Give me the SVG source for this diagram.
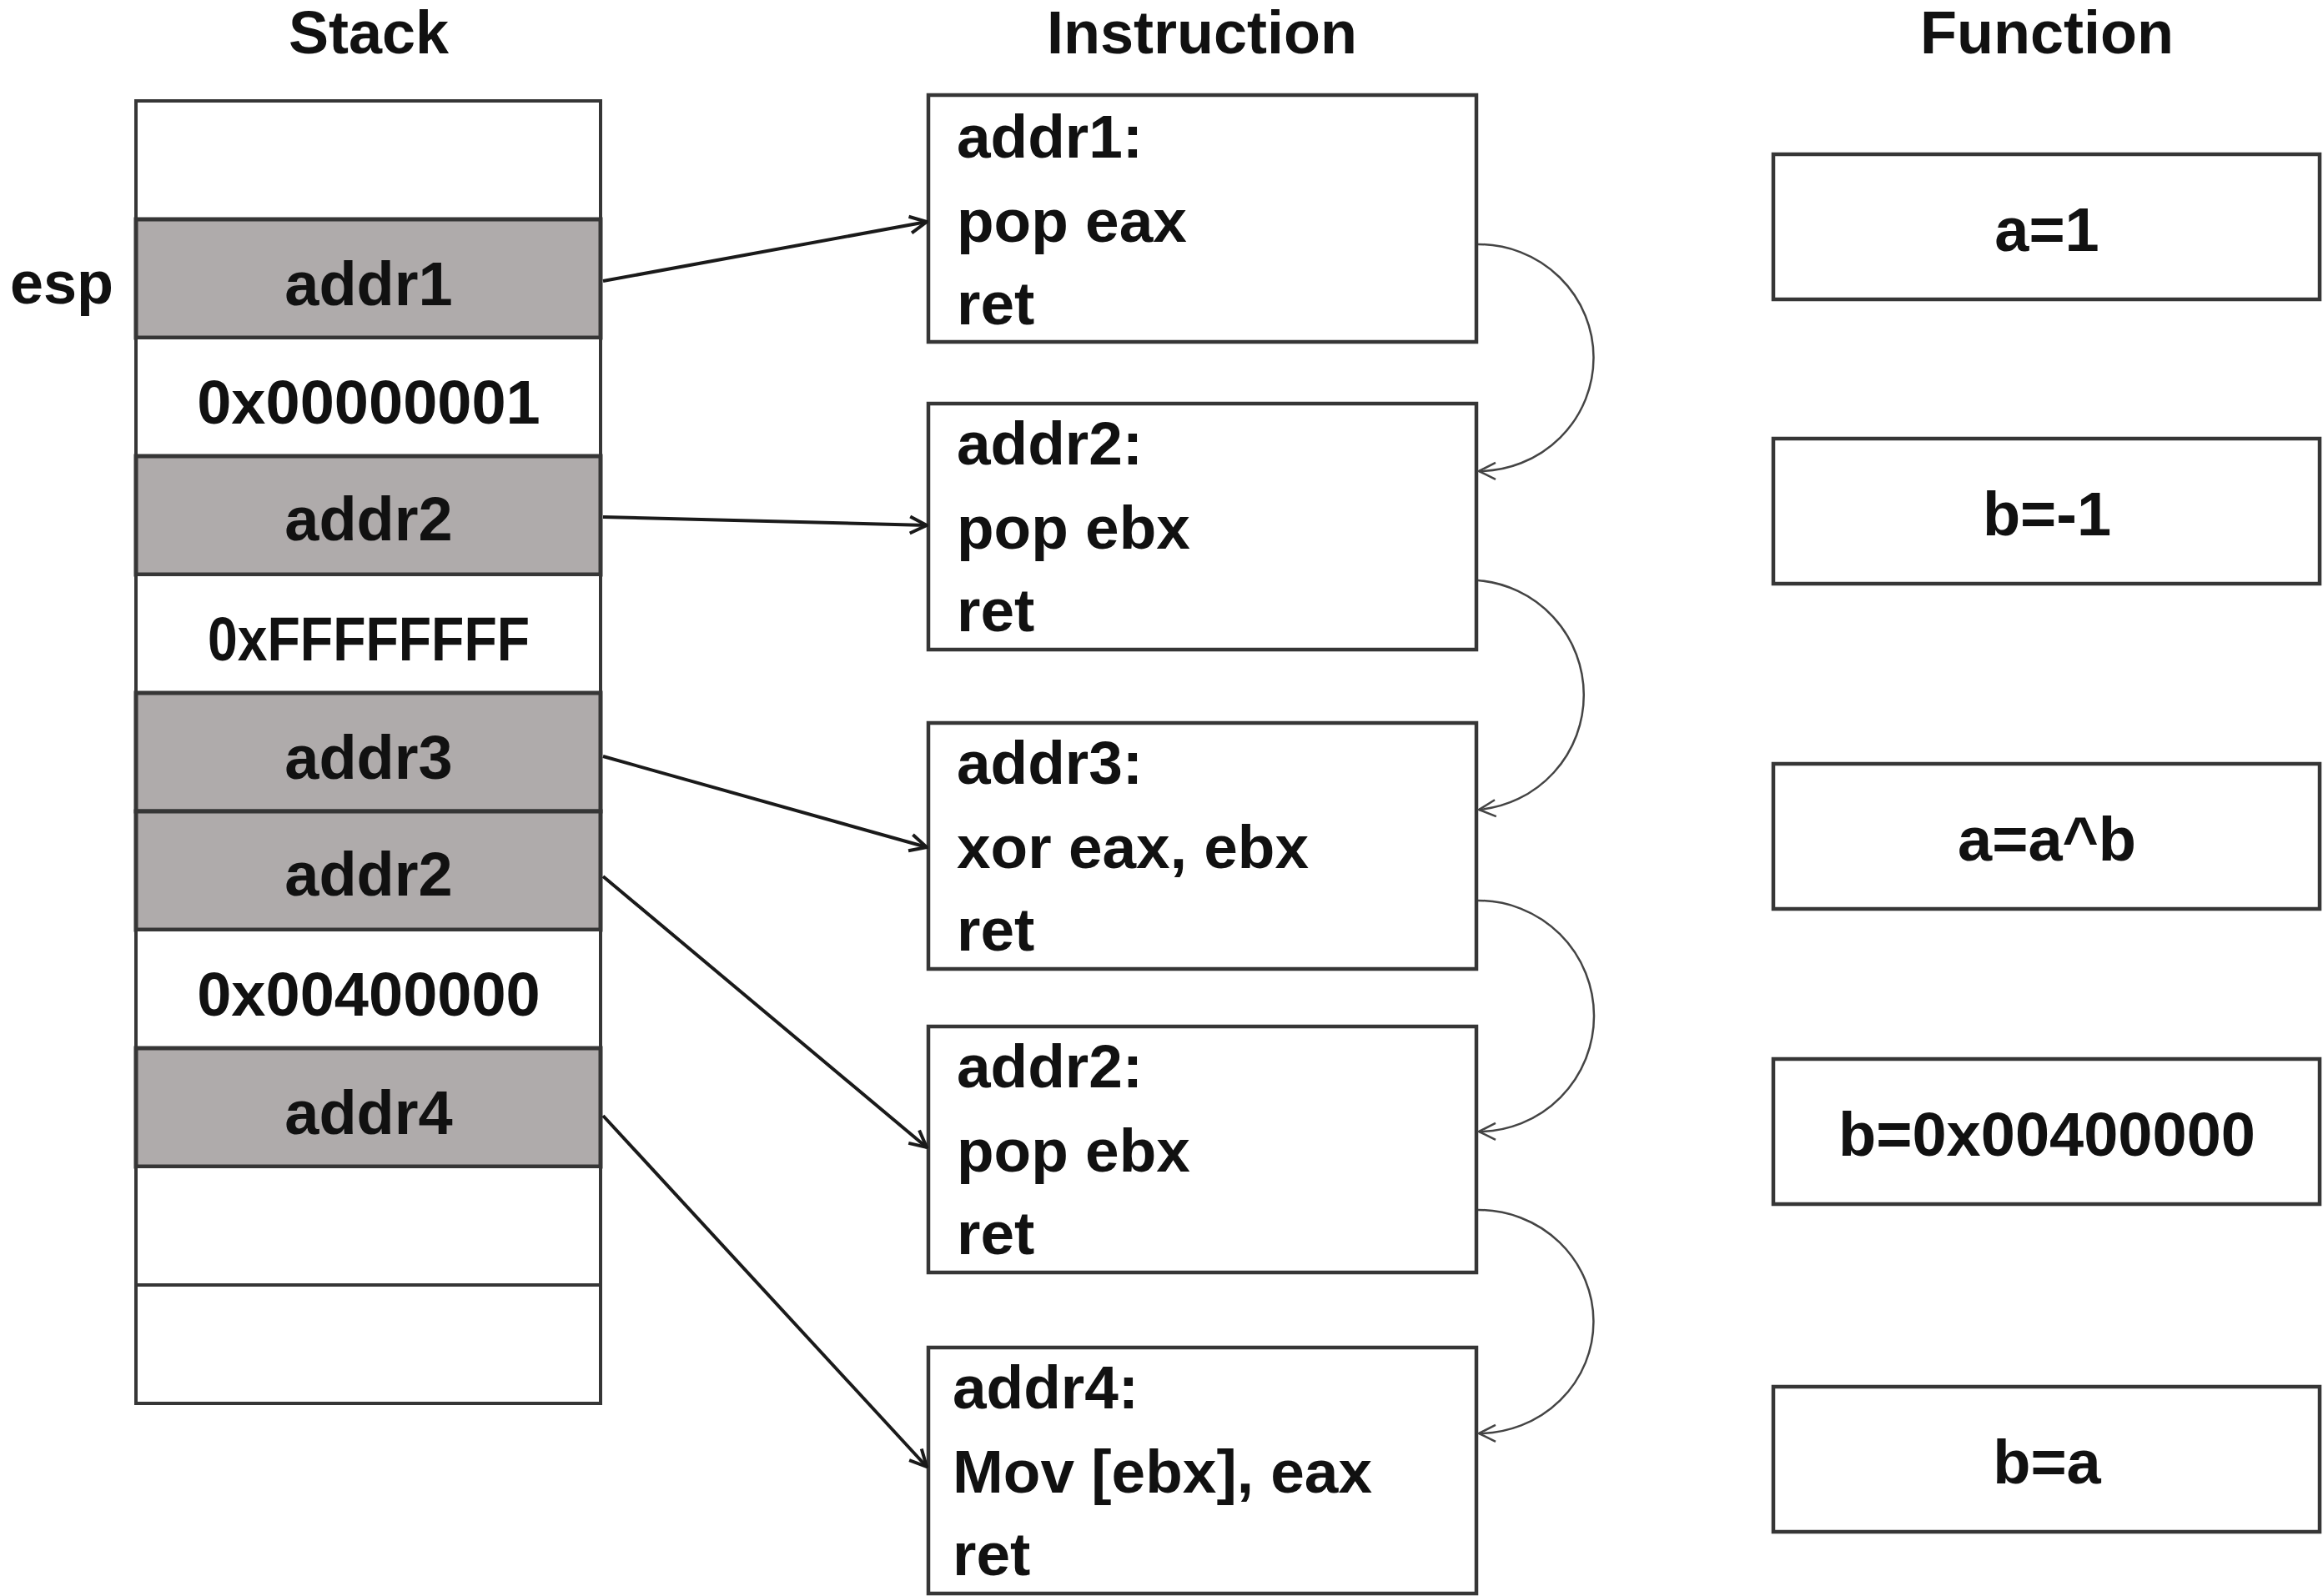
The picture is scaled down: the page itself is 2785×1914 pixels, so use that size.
<svg xmlns="http://www.w3.org/2000/svg" width="2785" height="1914" viewBox="0 0 2785 1914">
<style>
text{font-family:"Liberation Sans",Arial,sans-serif;font-weight:bold;fill:#111;}
.t{font-size:72px;text-anchor:middle;}
.c{font-size:74px;text-anchor:middle;}
.l{font-size:73px;}
.cell{fill:#fff;stroke:#363636;stroke-width:4;}
.g{fill:#afabab;stroke-width:5;}
.box{fill:#fff;stroke:#363636;stroke-width:4.5;}
.arr{fill:none;stroke:#1a1a1a;stroke-width:4;marker-end:url(#ah);}
.cur{fill:none;stroke:#444;stroke-width:2.5;marker-end:url(#ah2);}
</style>
<defs>
<marker id="ah" markerUnits="userSpaceOnUse" viewBox="-24 -13 26 26" refX="0" refY="0" markerWidth="26" markerHeight="26" orient="auto">
<path d="M-20,-10 L0,0 L-20,10" fill="none" stroke="#1a1a1a" stroke-width="4"/>
</marker>
<marker id="ah2" markerUnits="userSpaceOnUse" viewBox="-24 -13 26 26" refX="0" refY="0" markerWidth="26" markerHeight="26" orient="auto">
<path d="M-20,-10 L0,0 L-20,10" fill="none" stroke="#444" stroke-width="2.5"/>
</marker>
</defs>
<rect width="2785" height="1914" fill="#fff"/>

<g id="titles">
<text class="t" x="442" y="64">Stack</text>
<text class="t" x="1441" y="64">Instruction</text>
<text class="t" x="2454" y="64">Function</text>
</g>

<g id="stack">
<rect class="cell" x="163" y="121" width="557" height="142"/>
<rect class="cell g" x="163" y="263" width="557" height="142"/>
<rect class="cell" x="163" y="405" width="557" height="142"/>
<rect class="cell g" x="163" y="547" width="557" height="142"/>
<rect class="cell" x="163" y="689" width="557" height="142"/>
<rect class="cell g" x="163" y="831" width="557" height="142"/>
<rect class="cell g" x="163" y="973" width="557" height="142"/>
<rect class="cell" x="163" y="1115" width="557" height="142"/>
<rect class="cell g" x="163" y="1257" width="557" height="142"/>
<rect class="cell" x="163" y="1399" width="557" height="142"/>
<rect class="cell" x="163" y="1541" width="557" height="142"/>
<text class="c" x="442" y="366">addr1</text>
<text class="c" x="442" y="508">0x00000001</text>
<text class="c" x="442" y="648">addr2</text>
<text class="c" x="442" y="792" textLength="386" lengthAdjust="spacingAndGlyphs">0xFFFFFFFF</text>
<text class="c" x="442" y="934">addr3</text>
<text class="c" x="442" y="1074">addr2</text>
<text class="c" x="442" y="1218">0x00400000</text>
<text class="c" x="442" y="1360">addr4</text>
</g>
<g id="esp"><text class="l" x="12" y="364" style="font-size:72px">esp</text></g>

<g id="ins1">
<rect class="box" x="1113" y="114" width="657" height="296"/>
<text class="l" x="1147" y="189">addr1:</text>
<text class="l" x="1147" y="290">pop eax</text>
<text class="l" x="1147" y="389">ret</text>
</g>
<g id="ins2">
<rect class="box" x="1113" y="484" width="657" height="295"/>
<text class="l" x="1147" y="557">addr2:</text>
<text class="l" x="1147" y="658">pop ebx</text>
<text class="l" x="1147" y="757">ret</text>
</g>
<g id="ins3">
<rect class="box" x="1113" y="867" width="657" height="295"/>
<text class="l" x="1147" y="940">addr3:</text>
<text class="l" x="1147" y="1041">xor eax, ebx</text>
<text class="l" x="1147" y="1140">ret</text>
</g>
<g id="ins4">
<rect class="box" x="1113" y="1231" width="657" height="295"/>
<text class="l" x="1147" y="1304">addr2:</text>
<text class="l" x="1147" y="1405">pop ebx</text>
<text class="l" x="1147" y="1504">ret</text>
</g>
<g id="ins5">
<rect class="box" x="1113" y="1616" width="657" height="295"/>
<text class="l" x="1142" y="1689">addr4:</text>
<text class="l" x="1142" y="1790">Mov [ebx], eax</text>
<text class="l" x="1142" y="1889">ret</text>
</g>

<g id="fn1"><rect class="box" x="2126" y="185" width="655" height="174"/><text class="c" x="2454" y="301">a=1</text></g>
<g id="fn2"><rect class="box" x="2126" y="526" width="655" height="174"/><text class="c" x="2454" y="642">b=-1</text></g>
<g id="fn3"><rect class="box" x="2126" y="916" width="655" height="174"/><text class="c" x="2454" y="1032">a=a^b</text></g>
<g id="fn4"><rect class="box" x="2126" y="1270" width="655" height="174"/><text class="c" x="2454" y="1386">b=0x00400000</text></g>
<g id="fn5"><rect class="box" x="2126" y="1663" width="655" height="174"/><text class="c" x="2454" y="1779">b=a</text></g>

<g id="connectors">
<path class="arr" d="M723,337 L1111,266"/>
<path class="arr" d="M723,620 L1111,630"/>
<path class="arr" d="M723,907 L1111,1016"/>
<path class="arr" d="M723,1051 L1111,1376"/>
<path class="arr" d="M723,1338 L1111,1759"/>
<path class="cur" d="M1772,293 A138,136 0 0 1 1773,565"/>
<path class="cur" d="M1772,696 A138,138 0 0 1 1773,971"/>
<path class="cur" d="M1772,1080 A138,138 0 0 1 1773,1357"/>
<path class="cur" d="M1772,1451 A138,134 0 0 1 1773,1719"/>
</g>
</svg>
